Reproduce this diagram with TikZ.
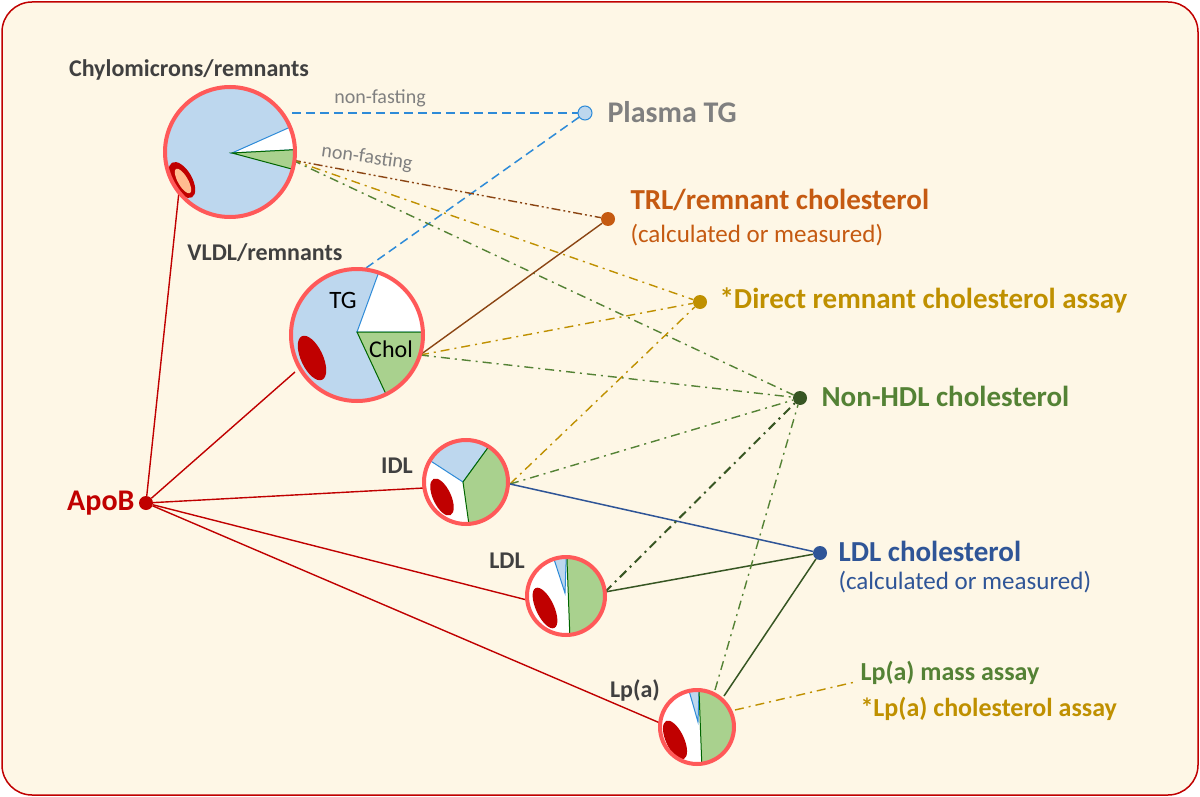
\documentclass[tikz,border=0pt]{standalone}
\usepackage{fontspec}
\setmainfont{Carlito}
\begin{document}
\begin{tikzpicture}[x=1pt,y=-1pt,
  lbl/.style={font=\bfseries\fontsize{24}{26}\selectfont,text=black!75},
  big/.style={font=\bfseries\fontsize{29}{31}\selectfont},
  sub/.style={font=\fontsize{25}{27}\selectfont},
  dot/.style={circle,inner sep=0pt,minimum size=14pt},
  rim/.style={draw=red!65!white,line width=4pt},
  tg/.style={fill=cBlue,draw=cTG,line width=1pt},
  ch/.style={fill=cGreen,draw=green!40!black,line width=1pt},
  apo/.style={draw=cRed,line width=1.4pt},
  dd/.style={dash pattern=on 9pt off 5pt on 2pt off 5pt,line width=1.4pt},
  ds/.style={dash pattern=on 9pt off 5pt,line width=1.5pt}]
\definecolor{cream}{HTML}{FEF7E6}
\definecolor{cBlue}{HTML}{BDD7EE}
\definecolor{cGreen}{HTML}{A9D18E}
\definecolor{cRed}{HTML}{C00000}
\definecolor{cTG}{HTML}{2E8BD8}
\definecolor{cTRL}{HTML}{C55A11}
\definecolor{cBrown}{HTML}{8B4513}
\definecolor{cGold}{HTML}{BF9000}
\definecolor{cNon}{HTML}{548235}
\definecolor{cNonD}{HTML}{375623}
\definecolor{cLDL}{HTML}{2F5597}
\useasboundingbox (0,0) rectangle (1200,797);
\draw[fill=cream,draw=cRed,line width=1.5pt,rounded corners=30pt] (2,2) rectangle (1198,795);

% endpoints
\node[dot,fill=cRed] (apob) at (146,503) {};
\node[dot,fill=cBlue,draw=cTG,line width=1pt] (ptg) at (585,113) {};
\node[dot,fill=cTRL] (trl) at (608,219) {};
\node[dot,fill=cGold] (drc) at (700,302) {};
\node[dot,fill=cNonD] (nhdl) at (800,398) {};
\node[dot,fill=cLDL] (ldlc) at (820,553) {};
\coordinate (lpend) at (855,682);

\coordinate (chyR) at (292,113);
\coordinate (chyG) at (292,160);
\coordinate (chyL) at (180,182);
\coordinate (vT) at (366,268);
\coordinate (vR) at (420,355);
\coordinate (vL) at (295,372);
\coordinate (iR) at (510,484);
\coordinate (iL) at (424,488);
\coordinate (lR) at (605,592);
\coordinate (lL) at (527,600);
\coordinate (aT) at (715,690);
\coordinate (aR) at (724,696);
\coordinate (aR2) at (735,710);
\coordinate (aL) at (660,723);

% connectors
\draw[cTG,ds] (chyR) -- (ptg);
\draw[cTG,ds] (vT) -- (ptg);
\draw[cBrown,dash pattern=on 9pt off 3pt on 2pt off 3pt on 2pt off 3pt,line width=1.4pt] (chyG) -- (trl);
\draw[cGold,dd] (chyG) -- (drc);
\draw[cNon,dd] (chyG) -- (nhdl);
\draw[cBrown,line width=1.4pt] (vR) -- (trl);
\draw[cGold,dd] (vR) -- (drc);
\draw[cNon,dd] (vR) -- (nhdl);
\draw[cGold,dd] (iR) -- (drc);
\draw[cNon,dd] (iR) -- (nhdl);
\draw[cLDL,line width=1.5pt] (iR) -- (ldlc);
\draw[cNonD,dd,line width=2pt] (lR) -- (nhdl);
\draw[cNonD,line width=1.5pt] (lR) -- (ldlc);
\draw[cNon,dd] (aT) -- (nhdl);
\draw[cNonD,line width=1.5pt] (aR) -- (ldlc);
\draw[cGold,dd] (aR2) -- (lpend);
\draw[apo] (apob) -- (chyL);
\draw[apo] (apob) -- (vL);
\draw[apo] (apob) -- (iL);
\draw[apo] (apob) -- (lL);
\draw[apo] (apob) -- (aL);

% Chylomicron
\begin{scope}
\clip (230,152) circle[radius=65];
\fill[cBlue] (230,152) circle[radius=65];
\draw[cTG,line width=1pt,fill=white] (232,153) -- ++(-24:70) arc[start angle=-24,end angle=-3,radius=70] -- cycle;
\draw[ch] (232,153) -- ++(-3:70) arc[start angle=-3,end angle=15,radius=70] -- cycle;
\fill[cRed] (182,180) ellipse[x radius=10,y radius=20,rotate=30];
\fill[orange!50!pink!70!white] (183,181) ellipse[x radius=5,y radius=14,rotate=30];
\end{scope}
\node[rim,circle,minimum size=130pt,inner sep=0pt] (chy) at (230,152) {};

% VLDL
\begin{scope}
\clip (357,335) circle[radius=66];
\fill[cBlue] (357,335) circle[radius=66];
\draw[cTG,line width=1pt,fill=white] (357,332) -- ++(-70:75) arc[start angle=-70,end angle=0,radius=75] -- cycle;
\draw[ch] (357,332) -- ++(0:75) arc[start angle=0,end angle=65,radius=75] -- cycle;
\fill[cRed] (312,358) ellipse[x radius=11,y radius=24,rotate=25];
\end{scope}
\node[rim,circle,minimum size=132pt,inner sep=0pt] (vldl) at (357,335) {};
\node[font=\fontsize{25}{27}\selectfont] at (343,300) {TG};
\node[font=\fontsize{24}{26}\selectfont] at (391,349) {Chol};

% IDL
\begin{scope}
\clip (466,482) circle[radius=42];
\fill[white] (466,482) circle[radius=42];
\draw[tg] (463,482) -- ++(-147:50) arc[start angle=-147,end angle=-54,radius=50] -- cycle;
\draw[ch] (463,482) -- ++(-54:50) arc[start angle=-54,end angle=82,radius=50] -- cycle;
\fill[cRed] (442,497) ellipse[x radius=9,y radius=20,rotate=25];
\end{scope}
\node[rim,circle,minimum size=84pt,inner sep=0pt] (idl) at (466,482) {};

% LDL
\begin{scope}
\clip (566,596) circle[radius=39];
\fill[white] (566,596) circle[radius=39];
\draw[tg] (565,593) -- ++(-108:45) arc[start angle=-108,end angle=-88,radius=45] -- cycle;
\draw[ch] (567,550) -- (567,560) -- (570,640) -- (620,640) -- (620,550) -- cycle;
\fill[cRed] (545,608) ellipse[x radius=9,y radius=22,rotate=25];
\end{scope}
\node[rim,circle,minimum size=78pt,inner sep=0pt] (ldl) at (566,596) {};

% Lp(a)
\begin{scope}
\clip (697,727) circle[radius=37];
\fill[white] (697,727) circle[radius=37];
\draw[tg] (698,722) -- ++(-106:45) arc[start angle=-106,end angle=-88,radius=45] -- cycle;
\draw[ch] (699,680) -- (699,690) -- (702,770) -- (750,770) -- (750,680) -- cycle;
\fill[cRed] (675,740) ellipse[x radius=9,y radius=21,rotate=25];
\end{scope}
\node[rim,circle,minimum size=74pt,inner sep=0pt] (lpa) at (697,727) {};

% labels
\node[lbl] at (189,70) {Chylomicrons/remnants};
\node[lbl] at (265,253) {VLDL/remnants};
\node[lbl] at (397,466) {IDL};
\node[lbl] at (507,561) {LDL};
\node[lbl] at (635,690) {Lp(a)};
\node[big,text=cRed,anchor=east,font=\bfseries\fontsize{30}{32}\selectfont] at (138,503) {ApoB};
\node[font=\fontsize{20}{22}\selectfont,text=gray] at (380,98) {non-fasting};
\node[font=\fontsize{20}{22}\selectfont,text=gray,rotate=-8] at (367,158) {non-fasting};
\node[text=gray,anchor=west,font=\bfseries\fontsize{30}{32}\selectfont] at (604,112) {Plasma TG};
\node[big,text=cTRL,anchor=west] at (627,200) {TRL/remnant cholesterol};
\node[sub,text=cTRL,anchor=west] at (627,235) {(calculated or measured)};
\node[big,text=cGold,anchor=west] at (716,300) {*Direct remnant cholesterol assay};
\node[big,text=cNon,anchor=west] at (818,396) {Non-HDL cholesterol};
\node[big,text=cLDL,anchor=west] at (835,551) {LDL cholesterol};
\node[sub,text=cLDL,anchor=west] at (835,582) {(calculated or measured)};
\node[big,text=cNon,anchor=west,font=\bfseries\fontsize{26}{28}\selectfont] at (857,673) {Lp(a) mass assay};
\node[big,text=cGold,anchor=west,font=\bfseries\fontsize{26}{28}\selectfont] at (857,709) {*Lp(a) cholesterol assay};
\end{tikzpicture}
\end{document}
